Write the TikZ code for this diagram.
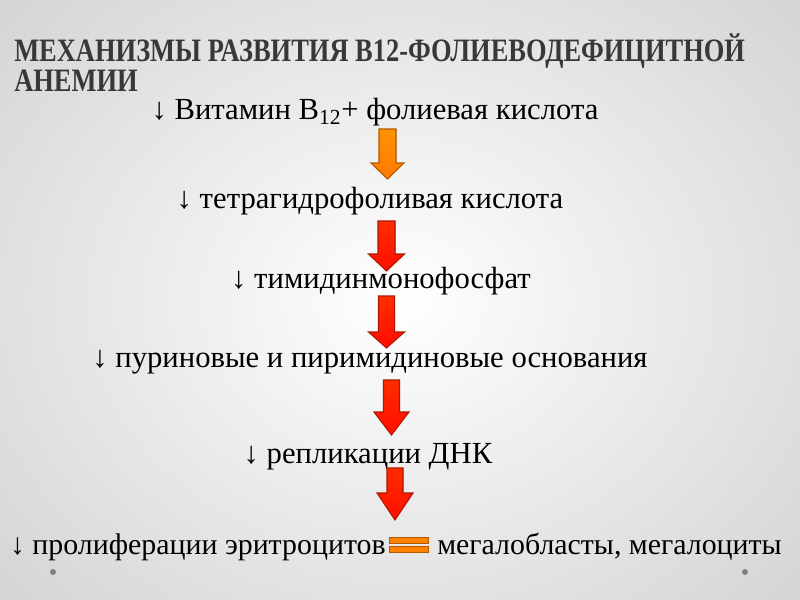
\documentclass[tikz,border=0pt]{standalone}
\usepackage{fontspec}
\setmainfont{Liberation Serif}
\newfontfamily\titlefont[FakeStretch=0.81]{Liberation Serif Bold}
\begin{document}
\begin{tikzpicture}[x=0.75pt,y=-0.75pt,
  body/.style={inner sep=0pt, font=\fontsize{23}{25}\selectfont, text=black},
  bodylast/.style={inner sep=0pt, font=\fontsize{22.4}{25}\selectfont, text=black},
  ttl/.style={inner sep=0pt, anchor=west, font=\titlefont\fontsize{24.5}{26}\selectfont, text=black!78},
  orangearrow/.style={draw=orange!70!black, line width=0.8pt, top color=orange!85!yellow, bottom color=orange!95!red},
  redarrow/.style={draw=red!60!black!80!orange, line width=0.8pt, top color=red!65!orange, bottom color=red!90!orange},
  bar/.style={draw=orange!70!black, line width=0.6pt, fill=orange!90!red!90!yellow}]
\useasboundingbox (0,0) rectangle (800,600);
\shade[inner color=white, outer color=black!17] (-150,-150) rectangle (950,750);
% title
\node[ttl] (t1) at (14,51) {МЕХАНИЗМЫ РАЗВИТИЯ В12-ФОЛИЕВОДЕФИЦИТНОЙ};
\node[ttl] (t2) at (14,81) {АНЕМИИ};
% lines
\node[body] (l1) at (375,112) {↓ Витамин В\textsubscript{12}+ фолиевая кислота};
\node[body] (l2) at (370,201) {↓ тетрагидрофоливая кислота};
\node[body] (l3) at (381,281) {↓ тимидинмонофосфат};
\node[body] (l4) at (370,362) {↓ пуриновые и пиримидиновые основания};
\node[body] (l5) at (368,457) {↓ репликации ДНК};
\node[bodylast, anchor=east] (l6) at (386,547) {↓ пролиферации эритроцитов};
\node[bodylast, anchor=west] (l7) at (437,547) {мегалобласты, мегалоциты};
% block arrows
\newcommand{\blockarr}[7]{% style, cx, top, headstart, tip, shafthalf, headhalf
  \filldraw[#1] (#2-#6,#3) -- (#2+#6,#3) -- (#2+#6,#4) -- (#2+#7,#4) -- (#2,#5) -- (#2-#7,#4) -- (#2-#6,#4) -- cycle;}
\blockarr{orangearrow}{387.5}{129}{163}{179}{8.5}{16.5}
\blockarr{redarrow}{386.5}{221}{254}{271}{8.5}{18}
\blockarr{redarrow}{386.5}{296}{332}{348}{8}{18}
\blockarr{redarrow}{391.5}{380}{412}{435}{8}{17.5}
\blockarr{redarrow}{395}{468}{493}{520}{8}{18}
% equals sign
\draw[bar] (389,537) rectangle (428,543);
\draw[bar] (389,546) rectangle (428,552);
% bullets
\fill[black!50] (53,572) circle (3);
\fill[black!50] (745,572) circle (3);
\end{tikzpicture}
\end{document}
